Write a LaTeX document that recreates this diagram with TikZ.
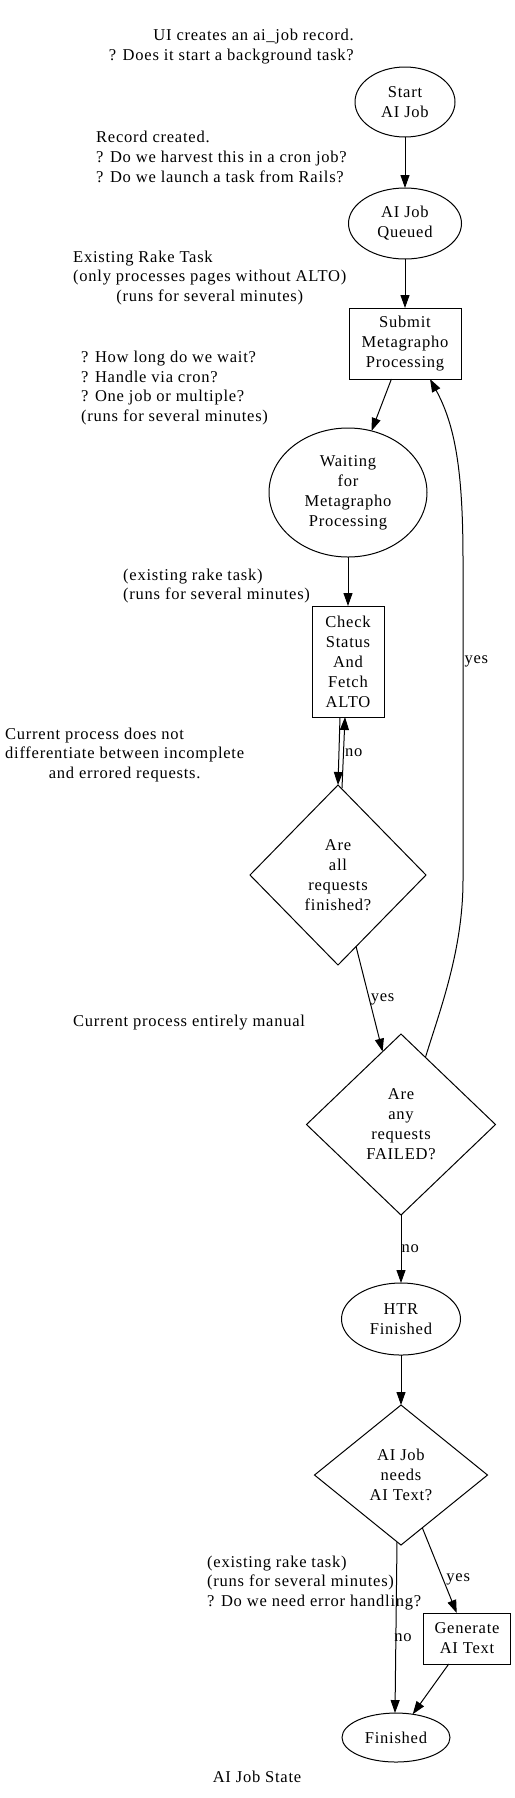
\documentclass[tikz,border=0pt]{standalone}
\usepackage{fontspec}
\setmainfont{Liberation Serif}[LetterSpace=4.5]
\usetikzlibrary{positioning,shapes.geometric,arrows.meta}

\begin{document}
\begin{tikzpicture}[x=1bp,y=-1bp,node distance=50bp,>={Triangle[length=13bp,width=9bp]},font=\fontsize{16.6}{20}\selectfont]
  \tikzstyle{state}=[draw,ellipse,line width=1bp,align=center,inner sep=0pt,outer sep=0pt]
  \tikzstyle{stepbox}=[draw,rectangle,line width=1bp,align=center,inner sep=3pt,outer sep=0pt]
  \tikzstyle{decision}=[draw,diamond,line width=1bp,align=center,inner sep=0pt,outer sep=0pt]
  \tikzstyle{note}=[inner sep=0pt]
  \tikzstyle{flow}=[->,line width=1bp]
  \tikzstyle{lbl}=[anchor=west,inner sep=1bp]
  \useasboundingbox (0,0) rectangle (515,1798);
  % states
  \node[state,minimum width=100bp,minimum height=70bp] (start) at (405,102) {Start\\AI Job};
  \node[state,below=51bp of start,minimum width=113bp,minimum height=71bp] (queued) {AI Job\\Queued};
  \node[stepbox,below=49bp of queued,minimum width=112bp,minimum height=71bp] (submit) {Submit\\Metagrapho\\Processing};
  \node[state,below=49bp of submit,xshift=-57bp,minimum width=158bp,minimum height=129bp] (waiting) {Waiting\\for\\Metagrapho\\Processing};
  \node[stepbox,below=49bp of waiting,minimum width=72bp,minimum height=111bp] (check) {Check\\Status\\And\\Fetch\\ALTO};
  \node[decision,below=68bp of check,xshift=-10bp,minimum width=176bp,minimum height=180bp] (allfin) {Are\\all\\requests\\finished?};
  \node[decision,below=69bp of allfin,xshift=63bp,minimum width=189bp,minimum height=181bp] (anyfail) {Are\\any\\requests\\FAILED?};
  \node[state,below=68bp of anyfail,minimum width=119bp,minimum height=72bp] (htr) {HTR\\Finished};
  \node[decision,below=50bp of htr,minimum width=173bp,minimum height=140bp] (needtext) {AI Job\\needs\\AI Text?};
  \node[stepbox,below=68bp of needtext,xshift=66bp,minimum width=87bp,minimum height=51bp] (gentext) {Generate\\AI Text};
  \node[state,below=168bp of needtext,xshift=-5bp,minimum width=108bp,minimum height=49bp] (finished) {Finished};
  % notes
  \node[note,anchor=east,align=right] (startnote) at (354,47) {UI creates an ai\_job record.\\? Does it start a background task?};
  \node[note,anchor=west,align=left] (queuednote) at (96,157) {Record created.\\? Do we harvest this in a cron job?\\? Do we launch a task from Rails?};
  \node[note,anchor=west] (submitnote) at (73,278) {\begin{tabular}{@{}l@{}}Existing Rake Task\\(only processes pages without ALTO)\\\multicolumn{1}{@{}c@{}}{(runs for several minutes)}\end{tabular}};
  \node[note,anchor=west,align=left] (waitingnote) at (81,388) {? How long do we wait?\\? Handle via cron?\\? One job or multiple?\\(runs for several minutes)};
  \node[note,anchor=west,align=left] (checknote) at (123,586) {(existing rake task)\\(runs for several minutes)};
  \node[note,anchor=west] (allfinnote) at (5,755) {\begin{tabular}{@{}l@{}}Current process does not\\differentiate between incomplete\\\multicolumn{1}{@{}c@{}}{and errored requests.}\end{tabular}};
  \node[note,anchor=west] (anyfailnote) at (73,1023) {Current process entirely manual};
  \node[note,anchor=west,align=left] (gentextnote) at (207,1583) {(existing rake task)\\(runs for several minutes)\\? Do we need error handling?};
  \node[note] (title) at (257,1777) {AI Job State};
  % transitions
  \draw[flow] (start) -- (queued);
  \draw[flow] (queued) -- (submit);
  \draw[flow] (submit) -- (waiting);
  \draw[flow] (waiting) -- (check);
  \draw[flow] ([xshift=-8bp]check.south) -- (allfin.north);
  \draw[flow] ([shift={(4bp,-3bp)}]allfin.north) -- node[lbl] {no} ([xshift=-3bp]check.south);
  \draw[flow] (allfin) -- node[lbl] {yes} (anyfail);
  \draw[flow] (anyfail.70) .. controls (440,1010) and (463,950) .. (463,880) -- node[lbl,pos=0.684] {yes} (463,560) .. controls (463,470) and (455,425) .. ([xshift=25bp]submit.south);
  \draw[flow] (anyfail) -- node[lbl,inner sep=0pt] {no} (htr);
  \draw[flow] (htr) -- (needtext);
  \draw[flow] (needtext) -- node[lbl,pos=0.6,xshift=2bp] {yes} (gentext);
  \draw[flow] ([shift={(-4bp,3bp)}]needtext.south) -- node[lbl,pos=0.56,inner sep=0pt,xshift=-2bp] {no} ([xshift=-1bp]finished.north);
  \draw[flow] (gentext) -- (finished);
\end{tikzpicture}
\end{document}
